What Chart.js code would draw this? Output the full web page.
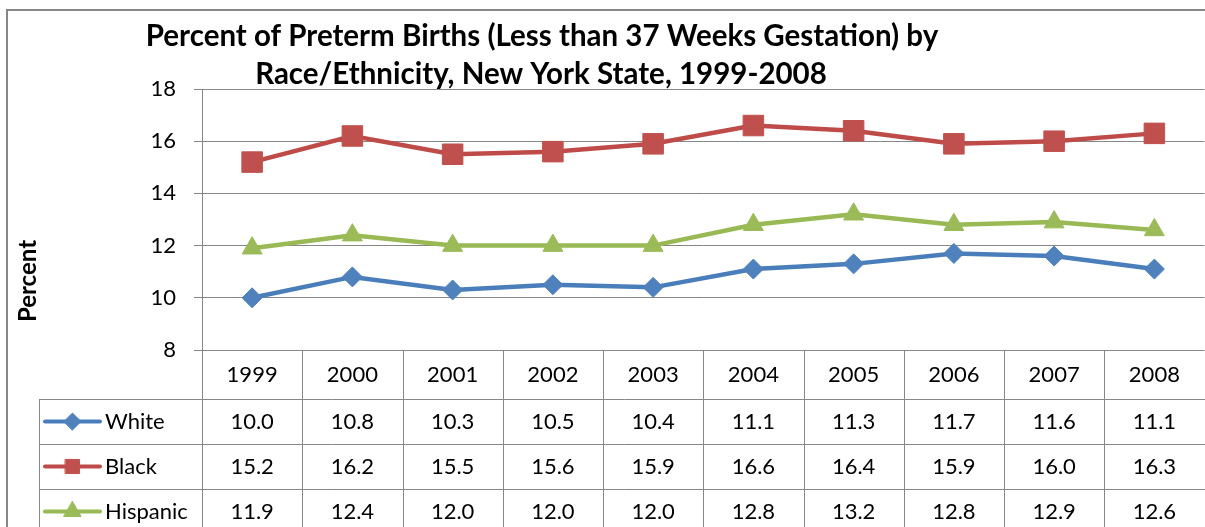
<!DOCTYPE html>
<html>
<head>
<meta charset="utf-8">
<script src="https://cdn.jsdelivr.net/npm/chart.js@4/dist/chart.umd.min.js"></script>
<style>
html,body{margin:0;padding:0;background:#fff;overflow:hidden;width:1205px;height:527px;}
#c{position:absolute;left:0;top:0;}
</style>
</head>
<body>
<canvas id="c" width="1220" height="545"></canvas>
<script>
const titleLines = ['Percent of Preterm Births (Less than 37 Weeks Gestation) by', 'Race/Ethnicity, New York State, 1999-2008'];
const yAxisTitle = 'Percent';
const years = ['1999','2000','2001','2002','2003','2004','2005','2006','2007','2008'];
const seriesNames = ['White','Black','Hispanic'];
const white = [10.0,10.8,10.3,10.5,10.4,11.1,11.3,11.7,11.6,11.1];
const black = [15.2,16.2,15.5,15.6,15.9,16.6,16.4,15.9,16.0,16.3];
const hispanic = [11.9,12.4,12.0,12.0,12.0,12.8,13.2,12.8,12.9,12.6];
const yMin = 8, yMax = 18, yStep = 2;

const FONT = 'Lato, "Liberation Sans", sans-serif';
const GRID = '#878787';
const styles = [
  {line:'#4A7EBB', fill:'#4F81BD', shape:'rectRot', r:10, lr:8.5},
  {line:'#BE4B48', fill:'#C0504D', shape:'rect', r:14.5, lr:10},
  {line:'#98B954', fill:'#9BBB59', shape:'triangle', r:11.5, lr:10}
];
const values = [white, black, hispanic];

const framePlugin = {
  id: 'frame',
  beforeDraw(chart) {
    const ctx = chart.ctx;
    ctx.save();
    ctx.fillStyle = '#fff';
    ctx.fillRect(0, 0, chart.width, chart.height);
    ctx.strokeStyle = GRID;
    ctx.lineWidth = 2;
    ctx.beginPath();
    ctx.moveTo(7, chart.height + 5);
    ctx.lineTo(7, 10);
    ctx.lineTo(chart.width + 5, 10);
    ctx.stroke();
    // title
    ctx.fillStyle = '#000';
    ctx.font = 'bold 29.5px ' + FONT;
    ctx.textAlign = 'center';
    ctx.textBaseline = 'alphabetic';
    ctx.fillText(titleLines[0], 542, 46);
    ctx.fillText(titleLines[1], 541, 84);
    // y axis title
    ctx.save();
    ctx.translate(28, 281);
    ctx.rotate(-Math.PI / 2);
    ctx.font = 'bold 24px ' + FONT;
    ctx.textBaseline = 'middle';
    ctx.fillText(yAxisTitle, 0, 0);
    ctx.restore();
    ctx.restore();
  },
  afterDraw(chart) {
    const ctx = chart.ctx;
    const xs = chart.scales.x;
    const area = chart.chartArea;
    const n = years.length;
    const colW = (area.right - area.left) / n;
    const rows = [area.bottom, 399, 444, 489, 534];
    const bottom = chart.height + 5;
    const legendLeft = 39;
    ctx.save();
    ctx.strokeStyle = GRID;
    ctx.lineWidth = 1;
    ctx.beginPath();
    for (let k = 0; k <= n; k++) {
      const x = Math.round(area.left + k * colW) + 0.5;
      ctx.moveTo(x, area.bottom);
      ctx.lineTo(x, bottom);
    }
    ctx.moveTo(legendLeft + 0.5, rows[1]);
    ctx.lineTo(legendLeft + 0.5, bottom);
    for (let r = 1; r < rows.length; r++) {
      ctx.moveTo(legendLeft, rows[r] + 0.5);
      ctx.lineTo(area.right + 5, rows[r] + 0.5);
    }
    ctx.stroke();
    ctx.fillStyle = '#000';
    ctx.font = '22px ' + FONT;
    ctx.textAlign = 'center';
    ctx.textBaseline = 'middle';
    years.forEach((yr, i) => {
      ctx.fillText(yr, xs.getPixelForValue(i), (rows[0] + rows[1]) / 2);
    });
    values.forEach((arr, s) => {
      const cy = (rows[s + 1] + rows[s + 2]) / 2;
      ctx.textAlign = 'center';
      ctx.fillStyle = '#000';
      arr.forEach((v, i) => {
        ctx.fillText(v.toFixed(1), xs.getPixelForValue(i), cy);
      });
      const st = styles[s];
      ctx.strokeStyle = st.line;
      ctx.lineWidth = 4;
      ctx.lineCap = 'round';
      ctx.beginPath();
      ctx.moveTo(45, cy);
      ctx.lineTo(100, cy);
      ctx.stroke();
      ctx.fillStyle = st.fill;
      ctx.strokeStyle = st.fill;
      ctx.lineWidth = 1;
      Chart.helpers.drawPoint(ctx, {pointStyle: st.shape, radius: st.lr, rotation: 0, borderWidth: 1}, 72.5, cy);
      ctx.fillStyle = '#000';
      ctx.textAlign = 'left';
      ctx.fillText(seriesNames[s], 105, cy);
    });
    ctx.restore();
  }
};

new Chart(document.getElementById('c'), {
  type: 'line',
  data: {
    labels: years,
    datasets: seriesNames.map((name, s) => ({
      label: name,
      data: values[s],
      borderColor: styles[s].line,
      backgroundColor: styles[s].fill,
      pointBackgroundColor: styles[s].fill,
      pointBorderColor: styles[s].fill,
      pointBorderWidth: 1,
      pointStyle: styles[s].shape,
      pointRadius: styles[s].r,
      borderWidth: 4.5,
      tension: 0,
      fill: false,
      clip: false
    }))
  },
  options: {
    responsive: false,
    animation: false,
    devicePixelRatio: 1,
    layout: {padding: {top: 89, left: 0, right: 9, bottom: 195}},
    plugins: {legend: {display: false}, title: {display: false}, tooltip: {enabled: false}},
    scales: {
      x: {type: 'category', display: false, offset: true},
      y: {
        min: yMin, max: yMax,
        afterFit(scale) { scale.width = 202; },
        ticks: {stepSize: yStep, padding: 18, color: '#000', font: {family: FONT, size: 22}},
        grid: {color: GRID, lineWidth: 1, drawTicks: true, tickLength: 8, tickColor: GRID},
        border: {display: true, color: GRID, width: 1}
      }
    }
  },
  plugins: [framePlugin]
});
</script>
</body>
</html>
